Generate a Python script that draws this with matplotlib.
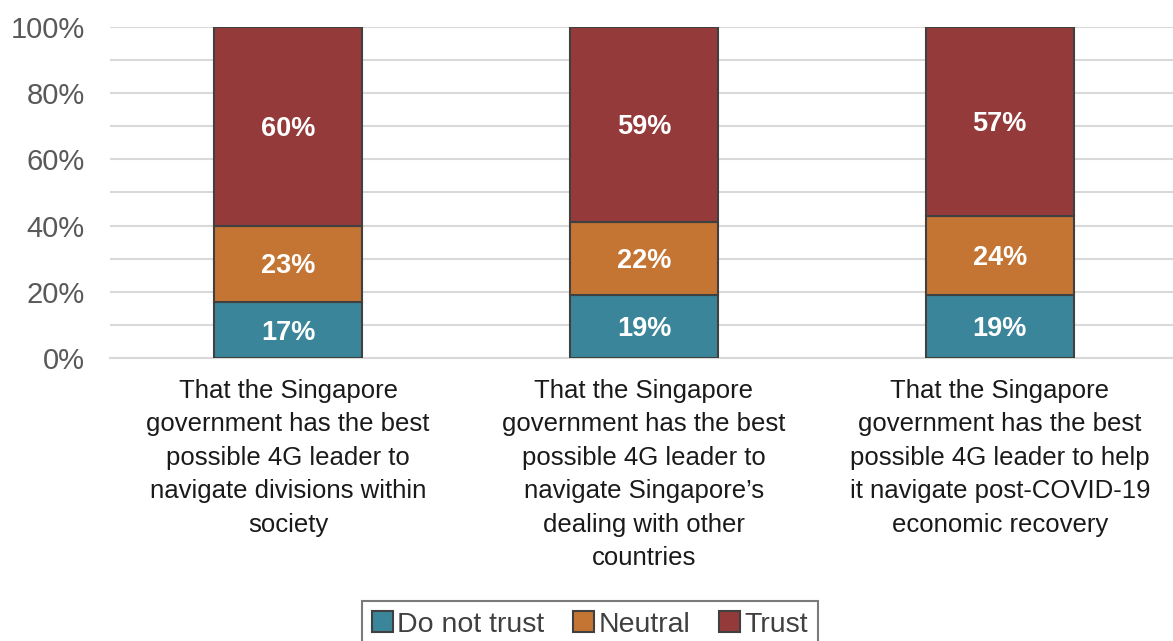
import matplotlib
matplotlib.use("Agg")
from matplotlib import pyplot as plt
import numpy as np

plt.rcParams['font.family'] = ['Liberation Sans', 'DejaVu Sans']

# data
categories = [
    "That the Singapore\ngovernment has the best\npossible 4G leader to\nnavigate divisions within\nsociety",
    "That the Singapore\ngovernment has the best\npossible 4G leader to\nnavigate Singapore\u2019s\ndealing with other\ncountries",
    "That the Singapore\ngovernment has the best\npossible 4G leader to help\nit navigate post-COVID-19\neconomic recovery",
]
series_names = ["Do not trust", "Neutral", "Trust"]
do_not_trust = [17, 19, 19]
neutral = [23, 22, 24]
trust = [60, 59, 57]
colors = ["#3A8599", "#C47533", "#953A3A"]

fig = plt.figure(figsize=(11.73, 6.41), dpi=100)
ax = fig.add_axes([0.094, 0.4415, 0.91, 0.5165])

x = np.arange(len(categories))
bottom = np.zeros(len(categories))
for name, vals, col in zip(series_names, [do_not_trust, neutral, trust], colors):
    vals = np.array(vals, dtype=float)
    ax.bar(x, vals, 0.415, bottom=bottom, color=col, edgecolor="#404040",
           linewidth=1.5, label=name, zorder=3)
    for xi, b, v in zip(x, bottom, vals):
        ax.text(xi, b + v / 2 - 0.8, f"{int(v)}%", ha="center", va="center",
                color="white", fontsize=19.5, fontweight="bold", zorder=4)
    bottom += vals

ax.set_xlim(-0.5, 2.5)
ax.set_ylim(0, 100)
ax.set_yticks(np.arange(0, 101, 20))
ax.set_yticklabels([f"{v}%" for v in range(0, 101, 20)])
ax.set_yticks(np.arange(0, 101, 10), minor=True)
ax.grid(axis="y", which="both", color="#D9D9D9", linewidth=1.5, zorder=0)
ax.tick_params(axis="y", which="both", length=0, labelsize=21, labelcolor="#595959", pad=18.5)
ax.set_xticks(x)
ax.set_xticklabels(categories, fontsize=18.5, linespacing=1.5)
ax.tick_params(axis="x", length=0, pad=15, labelcolor="#1a1a1a")
for s in ["top", "right", "left"]:
    ax.spines[s].set_visible(False)
ax.spines["bottom"].set_color("#D9D9D9")
ax.spines["bottom"].set_linewidth(1.5)

leg = fig.legend(loc="upper center", bbox_to_anchor=(0.503, 0.062), ncol=3,
                 fontsize=20.5, frameon=True, fancybox=False, edgecolor="#595959",
                 handlelength=0.75, handleheight=0.75, handletextpad=0.15,
                 columnspacing=1.0, borderpad=0.35, borderaxespad=0)
leg.get_frame().set_linewidth(1.5)
for t in leg.get_texts():
    t.set_color("#404040")

fig.savefig("out.png", dpi=100)
